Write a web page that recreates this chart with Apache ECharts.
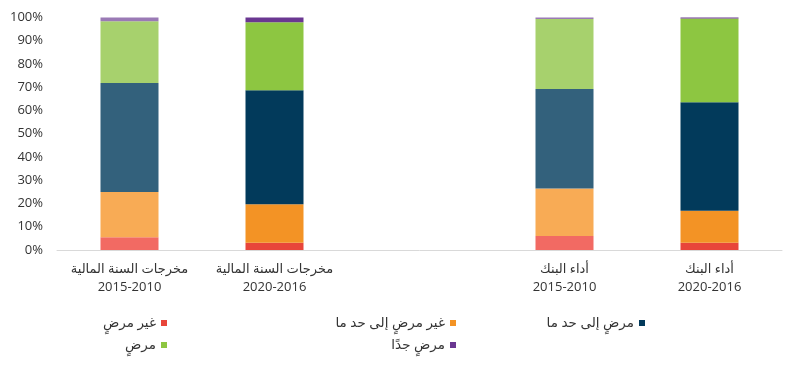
<!DOCTYPE html>
<html><head><meta charset="utf-8">
<script src="https://cdn.jsdelivr.net/npm/echarts@6/dist/echarts.min.js"></script>
<style>html,body{margin:0;padding:0;background:#fff}#c{width:800px;height:367px}</style>
</head><body><div id="c"></div>
<script>
const categories = ['مخرجات السنة المالية\n2015-2010', 'مخرجات السنة المالية\n2020-2016', '', 'أداء البنك\n2015-2010', 'أداء البنك\n2020-2016'];
const seriesNames = ['غير مرضٍ', 'غير مرضٍ إلى حد ما', 'مرضٍ إلى حد ما', 'مرضٍ', 'مرضٍ جدًا'];
const unsatisfactory = [5.5, 3.1, null, 6.0, 3.1];
const partlyUnsat = [19.5, 16.6, null, 20.5, 13.8];
const partlySat = [46.8, 49.0, null, 42.7, 46.6];
const satisfactory = [26.6, 29.3, null, 30.2, 36.1];
const verySat = [1.6, 2.0, null, 0.6, 0.4];
const yTicks = [0, 10, 20, 30, 40, 50, 60, 70, 80, 90, 100];

const darkColors = ['#E8453A', '#F39325', '#023A5B', '#8DC641', '#6A3791'];
const lightColors = ['#F26A63', '#F8AB55', '#33617C', '#A7D16D', '#9A7AB5'];
const lightIdx = [0, 3];
const values = [unsatisfactory, partlyUnsat, partlySat, satisfactory, verySat];
const font = "'Open Sans','Noto Sans','DejaVu Sans',sans-serif";

const series = seriesNames.map((n, si) => ({
  name: n, type: 'bar', stack: 'total', barWidth: '40%',
  itemStyle: { color: darkColors[si] },
  data: values[si].map((v, i) => v == null ? null : ({ value: v, itemStyle: { color: lightIdx.includes(i) ? lightColors[si] : darkColors[si] } }))
}));

const legendPos = [
  { right: 628, top: 311 }, { right: 339, top: 311 }, { right: 150, top: 311 },
  { right: 628, top: 333 }, { right: 339, top: 333 }
];
const legends = seriesNames.map((n, i) => ({
  data: [{ name: n, itemStyle: { color: darkColors[i] } }],
  right: legendPos[i].right, top: legendPos[i].top, align: 'right',
  itemWidth: 6, itemHeight: 6, icon: 'rect', selectedMode: false,
  textStyle: { fontSize: 13.5, color: '#333', fontFamily: font }
}));

const chart = echarts.init(document.getElementById('c'));
chart.setOption({
  animation: false,
  grid: { left: 57, right: 18, top: 17.5, bottom: 117 },
  legend: legends,
  xAxis: {
    type: 'category', data: categories,
    axisLine: { lineStyle: { color: '#D9D9D9' } },
    axisTick: { show: false },
    axisLabel: { color: '#333', fontSize: 13, fontFamily: font, lineHeight: 18, margin: 10, interval: 0 }
  },
  yAxis: {
    type: 'value', min: 0, max: 100, interval: 10,
    splitLine: { show: false },
    axisLine: { show: false }, axisTick: { show: false },
    axisLabel: { formatter: v => yTicks.includes(v) ? v + '%' : '', color: '#333', fontSize: 13, fontFamily: font, margin: 14 }
  },
  series
});
</script></body></html>
